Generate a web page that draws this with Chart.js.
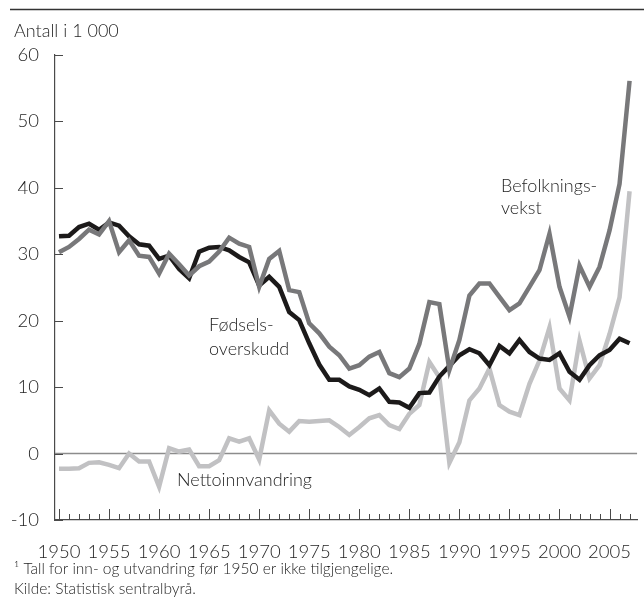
<!DOCTYPE html>
<html>
<head>
<meta charset="utf-8">
<script src="https://cdn.jsdelivr.net/npm/chart.js@4.4.1/dist/chart.umd.min.js"></script>
<style>
  html, body { margin: 0; padding: 0; background: #fff; }
  canvas { display: block; }
</style>
</head>
<body>
<canvas id="chart" width="644" height="599"></canvas>
<script>
const years = Array.from({ length: 58 }, (_, i) => 1950 + i)

const fodselsoverskudd = [
  32.7, 32.8, 34.1, 34.6, 33.7, 34.8, 34.3, 32.7, 31.5, 31.3,
  29.3, 29.8, 27.8, 26.4, 30.4, 31.0, 31.1, 30.6, 29.6, 28.8,
  25.3, 26.6, 25.1, 21.3, 20.1, 16.6, 13.4, 11.1, 11.1, 10.1,
  9.6, 8.8, 9.8, 7.8, 7.7, 6.9, 9.1, 9.2, 11.6, 13.2,
  14.8, 15.7, 15.1, 13.3, 16.2, 15.1, 17.1, 15.3, 14.3, 14.1,
  15.1, 12.3, 11.1, 13.3, 14.8, 15.6, 17.3, 16.6
]

const befolkningsvekst = [
  30.3, 31.1, 32.3, 33.7, 33.0, 35.0, 30.3, 32.1, 29.8, 29.6,
  27.1, 30.1, 28.5, 26.8, 28.2, 28.9, 30.4, 32.5, 31.6, 31.1,
  25.1, 29.3, 30.5, 24.6, 24.3, 19.6, 18.1, 16.1, 14.8, 12.8,
  13.3, 14.6, 15.3, 12.1, 11.5, 12.8, 16.5, 22.8, 22.5, 12.6,
  17.1, 23.8, 25.6, 25.6, 23.6, 21.6, 22.6, 25.1, 27.6, 33.1,
  25.1, 20.6, 28.3, 25.1, 28.1, 33.6, 40.6, 56.1
]

const nettoinnvandring = [
  -2.3, -2.3, -2.2, -1.4, -1.3, -1.7, -2.2, 0.0, -1.2, -1.2,
  -5.0, 0.8, 0.3, 0.6, -1.9, -1.9, -1.0, 2.3, 1.8, 2.3,
  -0.9, 6.5, 4.5, 3.3, 4.9, 4.8, 4.9, 5.0, 4.0, 2.8,
  4.0, 5.3, 5.8, 4.3, 3.7, 6.0, 7.3, 13.8, 11.5, -1.4,
  1.7, 8.0, 9.8, 12.8, 7.3, 6.3, 5.8, 10.5, 14.0, 19.0,
  9.8, 8.0, 17.0, 11.3, 13.3, 18.0, 23.5, 39.5
]

const yTicks = [-10, 0, 10, 20, 30, 40, 50, 60]
const xLabelYears = [1950, 1955, 1960, 1965, 1970, 1975, 1980, 1985, 1990, 1995, 2000, 2005]

const FONT = "Lato, 'Open Sans', sans-serif"
const TEXT = "#1f1f1f"
const AXIS = "#4a4a4a"

const toPoints = arr => arr.map((v, i) => ({ x: years[i], y: v }))

const decor = {
  id: "decor",
  beforeDatasetsDraw(chart) {
    const { ctx, chartArea, scales: { y } } = chart
    const y0 = y.getPixelForValue(0)
    ctx.save()
    ctx.strokeStyle = "#8c8c8c"
    ctx.lineWidth = 1.5
    ctx.beginPath()
    ctx.moveTo(chartArea.left, y0)
    ctx.lineTo(chartArea.right, y0)
    ctx.stroke()
    ctx.restore()
  },
  afterDraw(chart) {
    const { ctx, chartArea, scales: { x, y } } = chart
    ctx.save()

    // rule at the top
    ctx.strokeStyle = "#333"
    ctx.lineWidth = 1.5
    ctx.beginPath()
    ctx.moveTo(10, 9.5)
    ctx.lineTo(644, 9.5)
    ctx.stroke()

    // inner tick marks
    ctx.strokeStyle = AXIS
    ctx.lineWidth = 1
    ctx.beginPath()
    yTicks.forEach(v => {
      const py = Math.round(y.getPixelForValue(v)) + 0.5
      ctx.moveTo(chartArea.left, py)
      ctx.lineTo(chartArea.left + 8, py)
    })
    years.forEach(yr => {
      const px = Math.round(x.getPixelForValue(yr)) + 0.5
      const len = yr % 5 === 0 ? 11 : 6
      ctx.moveTo(px, chartArea.bottom)
      ctx.lineTo(px, chartArea.bottom - len)
    })
    ctx.stroke()

    // texts
    ctx.fillStyle = TEXT
    ctx.textBaseline = "middle"
    ctx.textAlign = "left"
    ctx.font = `300 18px ${FONT}`
    ctx.fillText("Antall i 1 000", 14, 31)
    ctx.fillText("Fødsels-", 209, 325)
    ctx.fillText("overskudd", 209, 349)
    ctx.fillText("Befolknings-", 501, 186)
    ctx.fillText("vekst", 501, 208)
    ctx.fillText("Nettoinnvandring", 177, 480)

    ctx.font = `300 15.5px ${FONT}`
    ctx.fillText("¹ Tall for inn- og utvandring før 1950 er ikke tilgjengelige.", 14, 569)
    ctx.fillText("Kilde: Statistisk sentralbyrå.", 14, 589)
    ctx.restore()
  }
}

new Chart(document.getElementById("chart"), {
  type: "line",
  data: {
    datasets: [
      { label: "Befolkningsvekst", data: toPoints(befolkningsvekst), borderColor: "#78787a", order: 1 },
      { label: "Fødselsoverskudd", data: toPoints(fodselsoverskudd), borderColor: "#1c1a1a", order: 2 },
      { label: "Nettoinnvandring", data: toPoints(nettoinnvandring), borderColor: "#c1c1c3", order: 3 }
    ]
  },
  options: {
    responsive: false,
    animation: false,
    layout: { padding: { top: 55, left: 0, right: 0, bottom: 0 } },
    elements: {
      line: { borderWidth: 4.5, tension: 0, borderJoinStyle: "miter", fill: false },
      point: { radius: 0, hoverRadius: 0 }
    },
    plugins: { legend: { display: false }, tooltip: { enabled: false } },
    scales: {
      x: {
        type: "linear",
        min: 1949.6,
        max: 2007.75,
        afterFit: s => { s.height = 79 },
        afterBuildTicks: s => { s.ticks = xLabelYears.map(v => ({ value: v })) },
        ticks: { font: { family: FONT, size: 18.5, weight: 300 }, color: TEXT, padding: 13, maxRotation: 0, autoSkip: false, callback: v => String(v) },
        grid: { display: false },
        border: { display: true, color: AXIS, width: 1.2 }
      },
      y: {
        min: -10,
        max: 60,
        afterFit: s => { s.width = 55 },
        afterBuildTicks: s => { s.ticks = yTicks.map(v => ({ value: v })) },
        ticks: { font: { family: FONT, size: 18.5, weight: 300 }, color: TEXT, padding: 8 },
        grid: { display: false },
        border: { display: true, color: AXIS, width: 1.2 }
      }
    }
  },
  plugins: [decor]
})
</script>
</body>
</html>
